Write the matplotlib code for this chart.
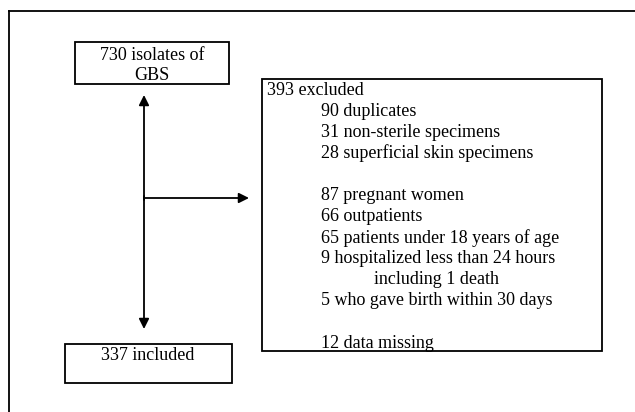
import matplotlib.pyplot as plt
from matplotlib.patches import Rectangle

# Flowchart text
top_lines = ['730 isolates of', 'GBS']
included_label = '337 included'
excluded_header = '393 excluded'
excluded_lines = ['90 duplicates', '31 non-sterile specimens', '28 superficial skin specimens',
                  '', '87 pregnant women', '66 outpatients', '65 patients under 18 years of age',
                  '9 hospitalized less than 24 hours', '    including 1 death',
                  '5 who gave birth within 30 days', '', '12 data missing']

plt.rcParams['font.family'] = ['Liberation Serif', 'DejaVu Serif']

fig = plt.figure(figsize=(6.35, 4.12), dpi=100)
ax = fig.add_axes([0, 0, 1, 1])
ax.set_xlim(0, 635)
ax.set_ylim(412, 0)
ax.axis('off')

fs = 13
lw = 1.3

# outer frame (only top and left edges visible)
ax.plot([9, 635], [11, 11], color='black', lw=lw)
ax.plot([9, 9], [11, 412], color='black', lw=lw)

# boxes
ax.add_patch(Rectangle((75, 42), 154, 42, fill=False, lw=lw, ec='black'))
ax.add_patch(Rectangle((65, 344), 167, 39, fill=False, lw=lw, ec='black'))
ax.add_patch(Rectangle((261.5, 79), 340.5, 272, fill=False, lw=lw, ec='black'))

# top box text
ax.text(152, 55, top_lines[0], ha='center', va='center', fontsize=fs)
ax.text(152, 75, top_lines[1], ha='center', va='center', fontsize=fs)

# bottom box text
ax.text(148, 355, included_label, ha='center', va='center', fontsize=fs)

# excluded box text
ax.text(267, 90, excluded_header, ha='left', va='center', fontsize=fs)
y = 111
for line in excluded_lines:
    if line.startswith('    '):
        ax.text(374, y, line.strip(), ha='left', va='center', fontsize=fs)
    elif line:
        ax.text(321, y, line, ha='left', va='center', fontsize=fs)
    y += 21.1

# arrows
arrow = dict(arrowstyle='-|>', color='black', lw=lw, mutation_scale=15, shrinkA=0, shrinkB=0)
ax.annotate('', xy=(144, 95), xytext=(144, 200), arrowprops=arrow)
ax.annotate('', xy=(144, 329), xytext=(144, 196), arrowprops=arrow)
ax.annotate('', xy=(249, 198), xytext=(144, 198), arrowprops=arrow)

plt.savefig('out.png', dpi=100)
